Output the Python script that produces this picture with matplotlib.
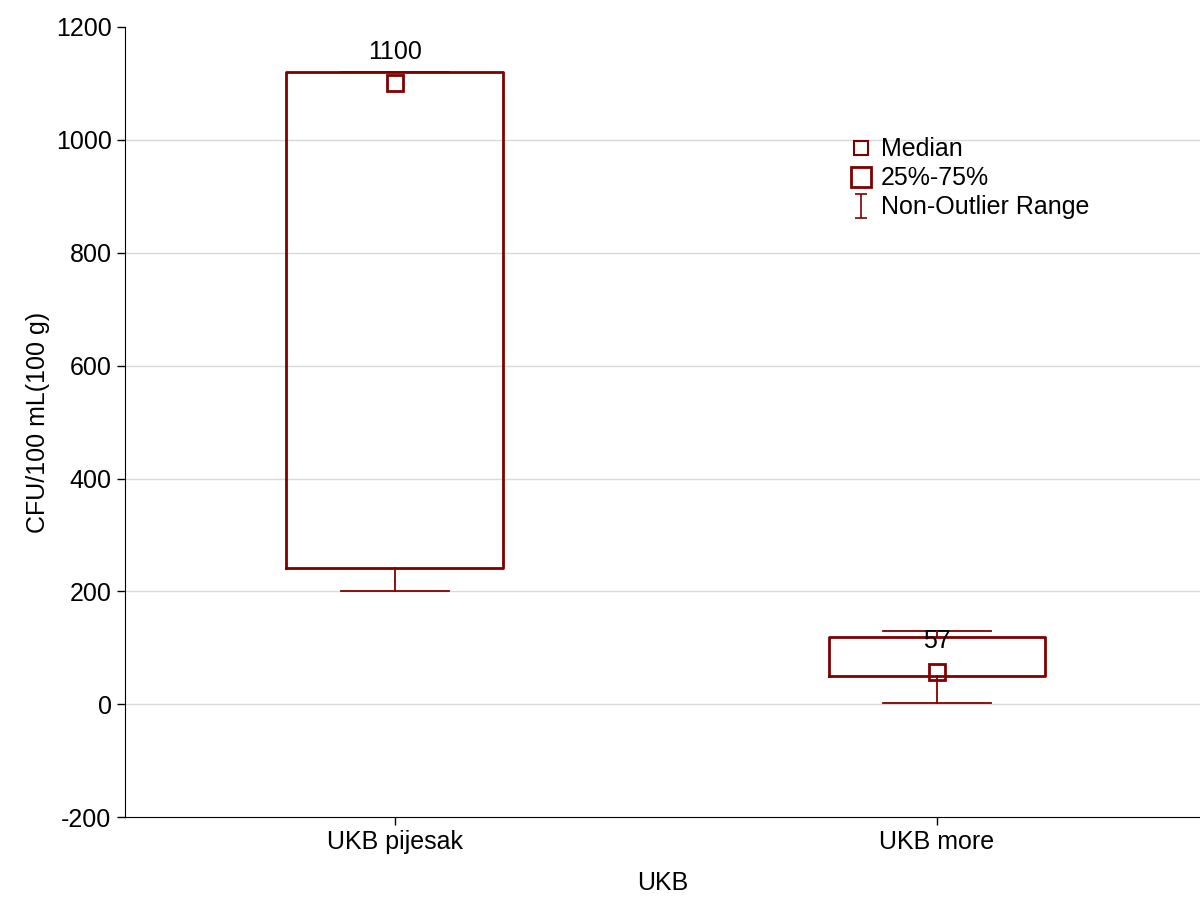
import matplotlib.pyplot as plt
from matplotlib.lines import Line2D
from matplotlib.path import Path

plt.rcParams['font.family'] = ['Liberation Sans', 'DejaVu Sans']
plt.rcParams['font.size'] = 18
plt.rcParams['axes.unicode_minus'] = False

# Box plot summary
groups = ['UKB pijesak', 'UKB more']
medians = [1100, 57]
q1 = [241, 51]
q3 = [1120, 120]
whisker_low = [200, 3]
whisker_high = [1120, 130]

red = '#800000'

fig = plt.figure(figsize=(12, 8.99), dpi=100)
ax = fig.add_axes([0.104, 0.091, 0.896, 0.879])

stats = []
for i in range(len(groups)):
    stats.append({'med': medians[i], 'q1': q1[i], 'q3': q3[i],
                  'whislo': whisker_low[i], 'whishi': whisker_high[i],
                  'label': groups[i]})

pos = list(range(len(groups)))
ax.bxp(stats, positions=pos, widths=0.4, capwidths=0.2, showfliers=False,
       boxprops=dict(color=red, linewidth=2),
       whiskerprops=dict(color=red, linewidth=1.3),
       capprops=dict(color=red, linewidth=1.3),
       medianprops=dict(linestyle='none'), zorder=3)

ax.plot(pos, medians, linestyle='none', marker='s', markersize=11,
        markerfacecolor='none', markeredgecolor=red, markeredgewidth=2, zorder=4)

for x, m in zip(pos, medians):
    ax.annotate(str(m), (x, m), xytext=(0, 14), textcoords='offset points',
                ha='center', va='bottom', fontsize=18, zorder=5)

ax.set_xlim(-0.498, 1.485)
ax.set_ylim(-200, 1200)
ax.set_yticks(range(-200, 1201, 200))
ax.set_xticks(pos)
ax.set_xticklabels(groups)
ax.grid(axis='y', color='#d9d9d9', linewidth=1, zorder=0)
ax.set_axisbelow(True)
gl = ax.yaxis.get_gridlines()
gl[0].set_visible(False)
gl[-1].set_visible(False)
ax.spines['top'].set_visible(False)
ax.spines['right'].set_visible(False)
ax.tick_params(direction='out', length=6, width=1, labelsize=18)
ax.set_ylabel('CFU/100 mL(100 g)', fontsize=18, labelpad=4)
ax.set_xlabel('UKB', fontsize=18, labelpad=12)

# whisker-style legend marker (I shape)
iverts = [(-0.5, -1), (0.5, -1), (0, -1), (0, 1), (-0.5, 1), (0.5, 1)]
icodes = [Path.MOVETO, Path.LINETO, Path.MOVETO, Path.LINETO, Path.MOVETO, Path.LINETO]
ipath = Path(iverts, icodes)

handles = [
    Line2D([], [], linestyle='none', marker='s', markersize=10,
           markerfacecolor='none', markeredgecolor=red, markeredgewidth=1.5),
    Line2D([], [], linestyle='none', marker='s', markersize=15,
           markerfacecolor='none', markeredgecolor=red, markeredgewidth=2),
    Line2D([], [], linestyle='none', marker=ipath, markersize=17,
           markerfacecolor='none', markeredgecolor=red, markeredgewidth=1.2),
]
ax.legend(handles, ['Median', '25%-75%', 'Non-Outlier Range'],
          loc='upper left', bbox_to_anchor=(0.664, 0.873), frameon=False,
          fontsize=18, handlelength=1.0, handletextpad=0.3, labelspacing=0.2,
          borderaxespad=0)

fig.savefig('out.png')
